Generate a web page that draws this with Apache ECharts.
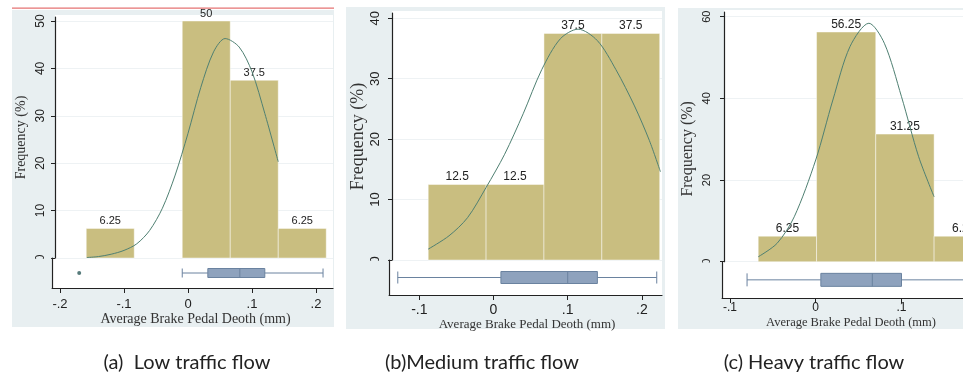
<!DOCTYPE html>
<html><head><meta charset="utf-8">
<script src="https://cdn.jsdelivr.net/npm/echarts@6/dist/echarts.min.js"></script>
<style>html,body{margin:0;padding:0;background:#fff}#c{width:963px;height:375px}</style>
</head><body><div id="c"></div><script>
// ---------- Data ----------
const captions = ['(a)  Low traffic flow', '(b)Medium traffic flow', '(c) Heavy traffic flow'];
const yTitle = 'Frequency (%)';
const xTitle = 'Average Brake Pedal Deoth (mm)';
const boxCategory = ['1'];

// (a) Low traffic flow
const binLowA = [-0.159, -0.009, 0.066, 0.141];
const binHighA = [-0.084, 0.066, 0.141, 0.216];
const freqA = [6.25, 50, 37.5, 6.25];
const curveXA = [-0.158, -0.14, -0.12, -0.1, -0.08, -0.06, -0.04, -0.02, 0, 0.02, 0.04, 0.058, 0.08, 0.1, 0.12, 0.141];
const curveYA = [0.1, 0.3, 0.8, 1.6, 3.0, 5.8, 10.5, 17.5, 26.3, 36.0, 43.5, 46.3, 44.5, 39.3, 30.5, 20.3];
const boxA = [-0.009, 0.031, 0.081, 0.12, 0.211];
const outlierA = [-0.17];
const xTickValsA = [-0.2, -0.1, 0, 0.1, 0.2];
const xTickLabelsA = ['-.2', '-.1', '0', '.1', '.2'];
const yTickValsA = [0, 10, 20, 30, 40, 50];

// (b) Medium traffic flow
const binLowB = [-0.088, -0.010, 0.068, 0.146];
const binHighB = [-0.010, 0.068, 0.146, 0.224];
const freqB = [12.5, 12.5, 37.5, 37.5];
const curveXB = [-0.088, -0.06, -0.035, -0.01, 0.015, 0.04, 0.065, 0.09, 0.114, 0.14, 0.165, 0.19, 0.21, 0.225];
const curveYB = [1.8, 4.0, 7.0, 12.0, 17.5, 24.2, 31.5, 36.6, 38.2, 36.3, 31.5, 25.5, 19.8, 14.6];
const boxB = [-0.129, 0.01, 0.1, 0.14, 0.22];
const outlierB = [];
const xTickValsB = [-0.1, 0, 0.1, 0.2];
const xTickLabelsB = ['-.1', '0', '.1', '.2'];
const yTickValsB = [0, 10, 20, 30, 40];

// (c) Heavy traffic flow
const binLowC = [-0.067, 0.001, 0.070, 0.138];
const binHighC = [0.001, 0.070, 0.138, 0.207];
const freqC = [6.25, 56.25, 31.25, 6.25];
const curveXC = [-0.067, -0.045, -0.025, 0, 0.02, 0.04, 0.062, 0.08, 0.1, 0.12, 0.138];
const curveYC = [1.2, 4.5, 11.0, 24.9, 39.6, 52.7, 58.4, 53.5, 40.4, 25.7, 15.9];
const boxC = [-0.08, 0.006, 0.066, 0.1, 0.2];
const outlierC = [];
const xTickValsC = [-0.1, 0, 0.1];
const xTickLabelsC = ['-.1', '0', '.1'];
const yTickValsC = [0, 20, 40, 60];

// ---------- Layout / styles ----------
const BAR = '#c9be80', CURVE = '#4f8072', BOXF = '#8ea2bd', BOXB = '#6a829f';
const PANEL = '#e8eff1', AX = '#222';
const SANS = 'Liberation Sans, Arial, sans-serif', SERIF = 'Liberation Serif, Times New Roman, serif';

const panels = [
  { bins: [binLowA, binHighA, freqA], curve: [curveXA, curveYA], box: boxA, out: outlierA,
    xt: [xTickValsA, xTickLabelsA], yt: yTickValsA, yInt: 10,
    x0: 188, ppu: 640, hl: 55, bl: 52, right: 333, top: 17, base: 258, axisY: 288, ypu: 4.74,
    boxW: 9, fx: 13, fy: 12, fyn: 14, fxn: 14, fb: 11, ymar: 8, xmar: 10, ynGap: 27, xnGap: 24,
    ynPad: [0,0,0,0], xnPad: [0,0,0,6],
    bg: [12, 10, 322, 317], plot: [55, 15, 278, 243] },
  { bins: [binLowB, binHighB, freqB], curve: [curveXB, curveYB], box: boxB, out: outlierB,
    xt: [xTickValsB, xTickLabelsB], yt: yTickValsB, yInt: 10,
    x0: 493.5, ppu: 742, hl: 392, bl: 389, right: 662, top: 13, base: 260, axisY: 295, ypu: 6.0425,
    boxW: 12, fx: 14, fy: 13, fyn: 18, fxn: 13, fb: 12, ymar: 10, xmar: 8, ynGap: 25, xnGap: 20,
    ynPad: [0,0,0,0], xnPad: [0,0,0,3],
    bg: [346, 7, 319, 322], plot: [392, 11, 270, 249] },
  { bins: [binLowC, binHighC, freqC], curve: [curveXC, curveYC], box: boxC, out: outlierC,
    xt: [xTickValsC, xTickLabelsC], yt: yTickValsC, yInt: 20,
    x0: 815.7, ppu: 858, hl: 724, bl: 722, right: 963, top: 12, base: 261.7, axisY: 298, ypu: 4.0833,
    boxW: 13, fx: 12, fy: 11, fyn: 16, fxn: 12.5, fb: 12, ymar: 12, xmar: 4, ynGap: 28, xnGap: 18,
    ynPad: [0,24,0,0], xnPad: [0,0,0,17],
    bg: [678, 8, 285, 321], plot: [724, 10, 239, 252] }
];
const captionX = [187, 482, 814];

const grid = [], xAxis = [], yAxis = [], series = [], graphic = [];

panels.forEach((p, i) => {
  const hMin = (p.hl - p.x0) / p.ppu, xMax = (p.right - p.x0) / p.ppu, bMin = (p.bl - p.x0) / p.ppu;
  const yMax = (p.base - p.top) / p.ypu;
  const gh = grid.length;
  grid.push({ left: p.hl, top: p.top, width: p.right - p.hl, height: p.base - p.top });
  grid.push({ left: p.bl, top: p.base, width: p.right - p.bl, height: p.axisY - p.base });
  const fmt = v => { const k = p.xt[0].findIndex(t => Math.abs(t - v) < 1e-9); return k >= 0 ? p.xt[1][k] : ''; };
  // hist axes
  xAxis.push({ gridIndex: gh, type: 'value', min: hMin, max: xMax, show: false });
  yAxis.push({ gridIndex: gh, type: 'value', min: 0, max: yMax, interval: p.yInt,
    name: yTitle, nameLocation: 'middle', nameGap: p.ynGap,
    nameTextStyle: { fontFamily: SERIF, fontSize: p.fyn, color: '#333', padding: p.ynPad },
    axisLine: { show: true, onZero: false, lineStyle: { color: AX, width: 1.2 } },
    axisTick: { show: true, length: 4, customValues: p.yt, lineStyle: { color: AX } },
    axisLabel: { customValues: p.yt, rotate: 90, margin: p.ymar, fontFamily: SANS, fontSize: p.fy, color: '#222' },
    splitLine: { show: true, lineStyle: { color: '#eef2f4', width: 1 } } });
  // box axes
  xAxis.push({ gridIndex: gh + 1, type: 'value', min: bMin, max: xMax,
    name: xTitle, nameLocation: 'middle', nameGap: p.xnGap,
    nameTextStyle: { fontFamily: SERIF, fontSize: p.fxn, color: '#333', padding: p.xnPad },
    axisLine: { show: true, onZero: false, lineStyle: { color: AX, width: 1.2 } },
    axisTick: { show: true, length: 5, customValues: p.xt[0], lineStyle: { color: AX } },
    axisLabel: { customValues: p.xt[0], formatter: fmt, margin: p.xmar, fontFamily: SANS, fontSize: p.fx, color: '#222' },
    splitLine: { show: false } });
  yAxis.push({ gridIndex: gh + 1, type: 'category', data: boxCategory,
    axisLine: { show: true, onZero: false, lineStyle: { color: AX, width: 1.2 } },
    axisTick: { show: false }, axisLabel: { show: false }, splitLine: { show: false } });

  const [lo, hi, fr] = p.bins;
  series.push({ type: 'custom', xAxisIndex: gh, yAxisIndex: gh, clip: false,
    data: fr.map((f, k) => [lo[k], hi[k], f]),
    encode: { x: [0, 1], y: 2 },
    renderItem: (params, api) => {
      const a = api.coord([api.value(0), api.value(2)]);
      const b = api.coord([api.value(1), 0]);
      return { type: 'group', children: [
        { type: 'rect', shape: { x: a[0], y: a[1], width: b[0] - a[0], height: b[1] - a[1] },
          style: { fill: BAR, stroke: 'rgba(255,255,255,0.45)', lineWidth: 1 } },
        { type: 'text', style: { text: String(api.value(2)), x: (a[0] + b[0]) / 2, y: a[1] - 1.5,
          textAlign: 'center', textVerticalAlign: 'bottom', fontFamily: SANS, fontSize: p.fb, fill: '#222' } }
      ] };
    } });
  series.push({ type: 'line', xAxisIndex: gh, yAxisIndex: gh, showSymbol: false, smooth: 0.3, clip: false,
    data: p.curve[0].map((x, k) => [x, p.curve[1][k]]),
    lineStyle: { color: CURVE, width: 1 }, z: 3 });
  series.push({ type: 'boxplot', xAxisIndex: gh + 1, yAxisIndex: gh + 1, boxWidth: [p.boxW, p.boxW],
    data: [p.box], itemStyle: { color: BOXF, borderColor: BOXB, borderWidth: 1 } });
  if (p.out.length) series.push({ type: 'scatter', xAxisIndex: gh + 1, yAxisIndex: gh + 1,
    data: p.out.map(v => [v, boxCategory[0]]), symbolSize: 4, itemStyle: { color: '#2c5a5a' } });

  // panel decorations
  graphic.push({ type: 'rect', z: -2, shape: { x: p.bg[0], y: p.bg[1], width: p.bg[2], height: p.bg[3] }, style: { fill: PANEL } });
  graphic.push({ type: 'rect', z: -1, shape: { x: p.plot[0], y: p.plot[1], width: p.plot[2], height: p.plot[3] }, style: { fill: '#fff' } });
  graphic.push({ type: 'rect', z: -1, shape: { x: p.bl, y: p.base, width: p.right - p.bl, height: p.axisY - p.base }, style: { fill: '#fff' } });
  graphic.push({ type: 'rect', z: 1, shape: { x: p.bg[0], y: p.base + 0.8, width: p.bl - p.bg[0] - 0.7, height: p.axisY - p.base }, style: { fill: PANEL } });
  graphic.push({ type: 'text', z: 5, style: { text: captions[i], x: captionX[i], y: 363, textAlign: 'center', textVerticalAlign: 'middle',
    fontFamily: 'Lato, Open Sans, sans-serif', fontSize: 20, fill: '#222' } });
});
graphic.push({ type: 'rect', z: 2, shape: { x: 12, y: 7.5, width: 322, height: 1.2 }, style: { fill: '#e57373' } });

const chart = echarts.init(document.getElementById('c'));
chart.setOption({ animation: false, backgroundColor: '#fff', grid, xAxis, yAxis, series, graphic });
</script></body></html>
